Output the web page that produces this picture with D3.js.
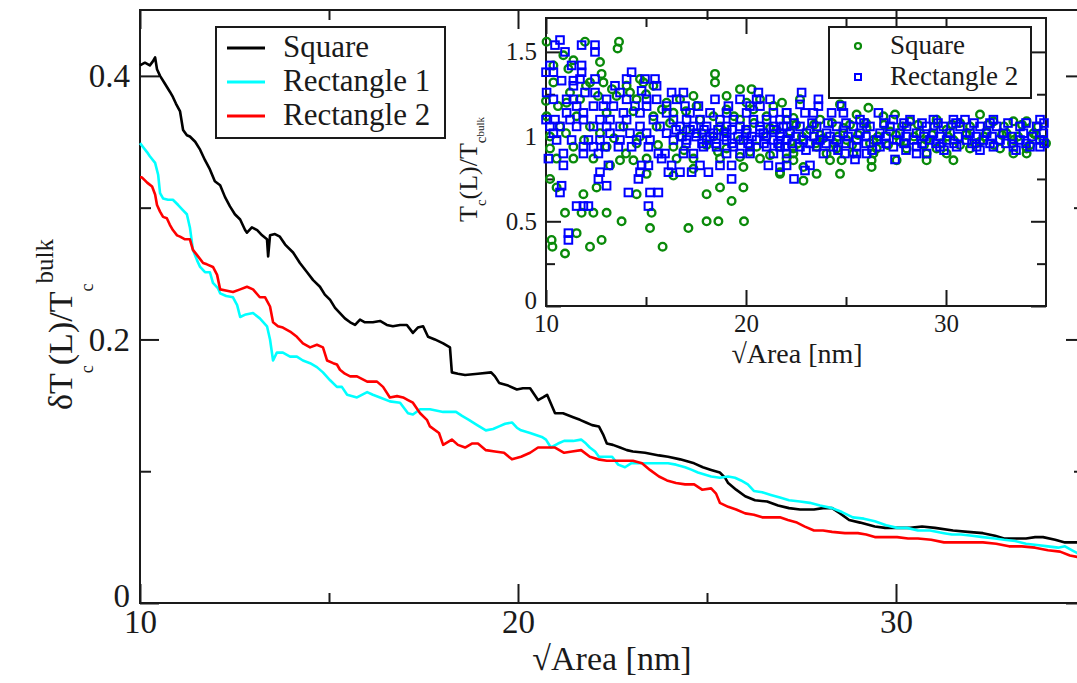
<!DOCTYPE html>
<html><head><meta charset="utf-8">
<script src="https://cdn.jsdelivr.net/npm/d3@7"></script>
<style>
body{margin:0;background:#fff}
svg{display:block}
svg text{font-family:"Liberation Serif","Times New Roman",serif !important}
</style>
</head><body><svg id="c" width="1077" height="683"></svg>
<script>
// ---------------- data ----------------
const seriesNames = ["Square", "Rectangle 1", "Rectangle 2"];
const insetNames = ["Square", "Rectangle 2"];

const squareCurve = [[10.00,0.408],[10.13,0.410],[10.26,0.408],[10.34,0.411],[10.40,0.414],[10.45,0.405],[10.53,0.400],[10.66,0.394],[10.79,0.388],[10.87,0.384],[10.95,0.379],[11.06,0.373],[11.14,0.359],[11.24,0.355],[11.32,0.354],[11.46,0.350],[11.59,0.344],[11.72,0.336],[11.85,0.329],[11.98,0.320],[12.12,0.317],[12.25,0.308],[12.38,0.301],[12.51,0.295],[12.65,0.291],[12.78,0.283],[12.83,0.281],[12.96,0.285],[13.10,0.283],[13.23,0.279],[13.36,0.276],[13.39,0.263],[13.44,0.279],[13.57,0.280],[13.70,0.278],[13.84,0.272],[14.05,0.266],[14.23,0.258],[14.42,0.251],[14.58,0.245],[14.76,0.240],[14.89,0.234],[15.03,0.230],[15.16,0.224],[15.29,0.220],[15.42,0.216],[15.56,0.213],[15.69,0.211],[15.82,0.215],[15.95,0.213],[16.16,0.213],[16.35,0.214],[16.53,0.211],[16.69,0.210],[16.88,0.211],[17.06,0.211],[17.22,0.205],[17.35,0.209],[17.49,0.210],[17.62,0.202],[17.80,0.200],[18.02,0.197],[18.20,0.194],[18.25,0.175],[18.41,0.174],[18.60,0.173],[18.94,0.174],[19.29,0.175],[19.39,0.172],[19.50,0.167],[19.74,0.165],[19.97,0.162],[20.13,0.163],[20.32,0.163],[20.53,0.154],[20.66,0.156],[20.77,0.158],[20.98,0.144],[21.19,0.144],[21.46,0.141],[21.64,0.139],[21.80,0.137],[21.96,0.135],[22.14,0.134],[22.25,0.128],[22.35,0.121],[22.51,0.120],[22.70,0.118],[22.88,0.116],[23.04,0.115],[23.36,0.114],[23.73,0.112],[23.97,0.111],[24.29,0.109],[24.66,0.106],[24.89,0.103],[25.11,0.101],[25.34,0.099],[25.48,0.095],[25.56,0.091],[25.77,0.086],[26.01,0.081],[26.27,0.078],[26.59,0.077],[26.88,0.074],[27.17,0.072],[27.46,0.071],[27.83,0.071],[28.07,0.072],[28.31,0.072],[28.52,0.068],[28.76,0.063],[29.05,0.061],[29.44,0.058],[29.71,0.057],[30.03,0.057],[30.37,0.057],[30.69,0.058],[31.03,0.057],[31.51,0.055],[31.90,0.054],[32.30,0.053],[32.62,0.051],[32.86,0.049],[33.15,0.049],[33.44,0.049],[33.68,0.050],[33.89,0.050],[34.21,0.048],[34.47,0.046],[34.79,0.046],[35.00,0.044]];

const rect1Curve = [[10.00,0.349],[10.08,0.346],[10.19,0.342],[10.26,0.339],[10.40,0.334],[10.48,0.325],[10.53,0.311],[10.61,0.307],[10.74,0.306],[10.87,0.306],[11.01,0.302],[11.14,0.298],[11.24,0.295],[11.32,0.285],[11.40,0.268],[11.51,0.260],[11.59,0.255],[11.72,0.251],[11.85,0.251],[11.93,0.243],[12.06,0.239],[12.12,0.235],[12.28,0.233],[12.46,0.232],[12.57,0.226],[12.65,0.217],[12.80,0.219],[12.99,0.220],[13.17,0.216],[13.36,0.210],[13.44,0.200],[13.52,0.184],[13.62,0.190],[13.78,0.190],[13.97,0.187],[14.15,0.187],[14.31,0.184],[14.50,0.182],[14.68,0.179],[14.84,0.175],[15.03,0.169],[15.21,0.164],[15.34,0.164],[15.48,0.158],[15.74,0.156],[16.01,0.160],[16.16,0.158],[16.35,0.156],[16.61,0.153],[16.88,0.152],[17.09,0.144],[17.22,0.143],[17.41,0.147],[17.67,0.147],[18.02,0.145],[18.36,0.145],[18.52,0.142],[18.70,0.139],[18.92,0.135],[19.15,0.131],[19.34,0.132],[19.50,0.134],[19.66,0.136],[19.84,0.137],[19.97,0.133],[20.08,0.131],[20.32,0.129],[20.63,0.126],[20.74,0.124],[20.87,0.118],[21.06,0.121],[21.22,0.123],[21.46,0.123],[21.67,0.124],[21.80,0.121],[21.90,0.118],[22.04,0.115],[22.14,0.111],[22.49,0.111],[22.65,0.105],[22.83,0.103],[22.99,0.106],[23.15,0.106],[23.49,0.106],[23.76,0.106],[23.97,0.106],[24.18,0.105],[24.42,0.103],[24.60,0.101],[24.76,0.099],[25.11,0.096],[25.34,0.095],[25.56,0.096],[25.74,0.095],[25.90,0.093],[26.08,0.090],[26.24,0.085],[26.46,0.084],[26.69,0.082],[26.93,0.080],[27.17,0.078],[27.46,0.077],[27.72,0.076],[27.99,0.074],[28.31,0.072],[28.57,0.069],[28.86,0.065],[29.15,0.064],[29.44,0.062],[29.74,0.059],[30.03,0.057],[30.29,0.057],[30.58,0.055],[30.90,0.055],[31.27,0.053],[31.48,0.052],[31.72,0.052],[32.01,0.051],[32.30,0.050],[32.62,0.049],[32.86,0.048],[33.15,0.047],[33.44,0.045],[33.73,0.044],[34.02,0.043],[34.29,0.042],[34.47,0.043],[34.66,0.040],[34.79,0.038],[35.00,0.036]];

const rect2Curve = [[10.00,0.323],[10.05,0.323],[10.19,0.319],[10.32,0.316],[10.40,0.310],[10.45,0.302],[10.53,0.297],[10.61,0.293],[10.71,0.292],[10.79,0.287],[10.87,0.283],[10.98,0.279],[11.06,0.278],[11.19,0.276],[11.32,0.276],[11.40,0.268],[11.51,0.264],[11.67,0.258],[11.77,0.257],[11.93,0.255],[12.04,0.249],[12.12,0.238],[12.30,0.237],[12.46,0.236],[12.65,0.238],[12.83,0.240],[12.99,0.238],[13.17,0.232],[13.31,0.232],[13.44,0.225],[13.52,0.213],[13.65,0.210],[13.78,0.209],[13.97,0.206],[14.15,0.202],[14.31,0.197],[14.50,0.194],[14.68,0.196],[14.84,0.194],[14.95,0.184],[15.11,0.182],[15.21,0.181],[15.29,0.177],[15.42,0.174],[15.56,0.172],[15.74,0.172],[16.01,0.168],[16.27,0.168],[16.43,0.164],[16.61,0.156],[16.80,0.157],[16.96,0.156],[17.09,0.154],[17.22,0.152],[17.41,0.144],[17.59,0.139],[17.67,0.134],[17.91,0.129],[18.02,0.120],[18.25,0.124],[18.41,0.120],[18.60,0.118],[18.78,0.121],[18.94,0.121],[19.15,0.116],[19.39,0.115],[19.63,0.114],[19.84,0.109],[20.08,0.111],[20.32,0.114],[20.53,0.118],[20.77,0.118],[20.98,0.118],[21.22,0.114],[21.43,0.115],[21.67,0.116],[21.90,0.111],[22.12,0.109],[22.35,0.108],[22.59,0.108],[22.83,0.108],[23.04,0.108],[23.28,0.106],[23.49,0.101],[23.73,0.096],[23.94,0.093],[24.18,0.091],[24.42,0.090],[24.66,0.090],[24.87,0.086],[25.11,0.087],[25.24,0.083],[25.34,0.076],[25.56,0.073],[25.77,0.071],[26.01,0.068],[26.24,0.067],[26.46,0.065],[26.69,0.065],[26.93,0.065],[27.14,0.063],[27.38,0.061],[27.59,0.058],[27.83,0.055],[28.07,0.055],[28.31,0.054],[28.65,0.053],[28.99,0.053],[29.21,0.052],[29.44,0.050],[29.74,0.050],[30.03,0.050],[30.32,0.049],[30.58,0.049],[30.93,0.048],[31.27,0.046],[31.61,0.046],[31.96,0.046],[32.30,0.046],[32.65,0.045],[32.99,0.043],[33.33,0.043],[33.68,0.042],[34.02,0.040],[34.34,0.039],[34.60,0.036],[34.79,0.035],[35.00,0.033]];

const insetSquare = [[10.03,1.56],[11.95,1.56],[13.65,1.56],[13.58,1.52],[12.7,1.44],[11.37,1.45],[10.87,1.48],[11.12,1.40],[10.37,1.42],[12.78,1.37],[14.7,1.34],[18.45,1.37],[18.45,1.32],[19.7,1.28],[20.28,1.28],[17.37,1.24],[19.03,1.24],[20.03,1.20],[20.7,1.22],[10.37,1.32],[12.2,1.32],[12.87,1.32],[14.03,1.30],[14.87,1.32],[15.37,1.30],[10.0,1.21],[11.03,1.20],[11.7,1.22],[13.53,1.24],[14.53,1.22],[16.03,1.20],[16.7,1.22],[17.53,1.18],[19.03,1.16],[20.37,1.16],[21.37,1.18],[10.03,1.12],[11.53,1.12],[13.03,1.14],[14.37,1.15],[15.37,1.12],[16.37,1.14],[17.7,1.10],[18.37,1.12],[19.7,1.10],[21.03,1.12],[22.03,1.10],[10.7,1.06],[12.2,1.06],[13.87,1.06],[15.53,1.06],[17.03,1.04],[18.7,1.06],[20.03,1.04],[21.53,1.04],[10.2,1.00],[12.7,1.02],[14.7,1.00],[16.7,1.00],[18.37,1.00],[19.7,0.98],[21.03,1.00],[10.2,0.93],[11.37,0.94],[13.03,0.94],[14.53,0.96],[16.37,0.94],[18.03,0.95],[19.03,0.93],[20.53,0.94],[21.7,0.94],[10.53,0.87],[11.37,0.87],[12.37,0.87],[13.7,0.86],[14.37,0.86],[15.03,0.87],[16.53,0.87],[17.37,0.87],[18.7,0.87],[19.7,0.88],[20.7,0.87],[22.03,0.87],[13.2,0.83],[15.03,0.78],[16.37,0.77],[17.37,0.81],[19.87,0.82],[21.7,0.78],[10.2,0.75],[10.53,0.70],[11.87,0.66],[12.53,0.70],[14.53,0.66],[18.03,0.66],[18.7,0.70],[19.87,0.70],[19.28,0.62],[10.95,0.55],[11.78,0.55],[12.37,0.55],[13.03,0.55],[13.78,0.50],[15.28,0.55],[15.2,0.46],[17.12,0.46],[18.03,0.50],[18.62,0.50],[19.9,0.50],[11.53,0.43],[10.28,0.39],[12.78,0.39],[10.32,0.35],[12.2,0.35],[15.83,0.35],[10.95,0.31],
[10.6,1.18],[11.2,1.26],[12.0,1.30],[12.6,1.24],[13.3,1.28],[14.2,1.26],[15.0,1.25],[15.8,1.16],[16.2,1.08],[17.0,1.15],[17.8,1.02],[18.9,1.03],[19.4,1.12],[20.4,1.08],[21.2,1.05],[21.8,1.20],[11.0,1.02],[11.9,0.98],[13.4,0.99],[14.0,0.90],[15.6,0.95],[16.9,0.92],[18.6,0.91],[20.2,0.91],[21.2,0.89],
[22.7,1.22],[24.7,1.19],[26.12,1.17],[27.45,1.13],[31.7,1.13],[22.37,1.11],[23.7,1.10],[25.53,1.13],[26.87,1.12],[28.2,1.09],[29.53,1.10],[30.7,1.08],[32.37,1.09],[33.37,1.09],[34.03,1.09],[22.2,1.03],[23.2,1.04],[24.87,1.05],[26.03,1.05],[27.2,1.03],[28.7,1.02],[30.03,1.04],[31.03,1.02],[32.03,1.02],[33.03,1.02],[34.37,1.02],[22.03,0.98],[23.87,0.99],[25.03,0.98],[26.37,0.98],[27.7,0.97],[29.03,0.98],[30.37,0.98],[31.7,0.97],[33.37,0.98],[34.87,0.98],[22.37,0.93],[23.53,0.94],[24.53,0.93],[26.53,0.93],[28.03,0.93],[29.53,0.93],[31.2,0.93],[32.7,0.93],[34.03,0.93],[22.37,0.90],[24.03,0.90],[25.37,0.90],[26.37,0.90],[29.03,0.90],[30.03,0.90],[33.37,0.90],[34.03,0.90],[22.37,0.86],[24.2,0.86],[24.78,0.86],[26.28,0.86],[27.53,0.86],[29.03,0.86],[30.37,0.86],[21.7,0.79],[22.87,0.82],[23.53,0.78],[24.7,0.78],[26.28,0.82],[22.87,0.74],
[22.5,1.07],[23.4,1.07],[24.3,1.08],[25.2,1.07],[26.0,1.08],[26.9,1.07],[27.8,1.06],[28.6,1.07],[29.4,1.06],[30.3,1.07],[31.2,1.06],[32.1,1.07],[32.9,1.06],[33.8,1.07],[34.6,1.06],
[22.8,1.00],[23.7,1.01],[24.6,1.00],[25.6,1.01],[26.6,1.00],[27.5,1.01],[28.4,1.00],[29.3,1.01],[30.1,1.00],[31.0,1.01],[31.9,1.00],[32.8,1.01],[33.6,1.00],[34.5,1.01],
[22.6,0.96],[23.5,0.96],[24.4,0.96],[25.3,0.95],[26.2,0.96],[27.1,0.95],[28.0,0.96],[28.9,0.95],[29.8,0.96],[30.7,0.95],[31.5,0.96],[32.4,0.95],[33.3,0.96],[34.2,0.95],[35.0,0.96]];

const insetRect2 = [[10.7,1.57],[10.45,1.54],[10.95,1.50],[11.78,1.54],[12.45,1.54],[12.45,1.50],[10.2,1.42],[10.0,1.38],[10.37,1.38],[11.28,1.42],[11.78,1.42],[11.78,1.38],[10.78,1.33],[11.37,1.33],[11.7,1.34],[11.37,1.30],[12.45,1.34],[14.28,1.38],[14.03,1.34],[14.95,1.34],[15.45,1.34],[13.45,1.30],[10.03,1.26],[11.95,1.26],[12.45,1.26],[13.7,1.26],[14.78,1.27],[15.53,1.30],[16.28,1.26],[16.87,1.26],[10.37,1.22],[11.03,1.22],[11.37,1.22],[13.03,1.22],[14.03,1.22],[15.03,1.22],[15.53,1.22],[16.53,1.22],[18.45,1.22],[19.7,1.22],[20.53,1.22],[21.2,1.22],[20.62,1.26],[11.53,1.18],[12.37,1.18],[12.87,1.18],[13.37,1.18],[14.45,1.18],[15.03,1.18],[16.03,1.18],[16.95,1.18],[17.62,1.18],[19.12,1.18],[20.2,1.18],[20.7,1.18],[11.03,1.14],[11.87,1.14],[13.87,1.14],[14.7,1.14],[16.03,1.14],[17.2,1.14],[18.2,1.14],[19.03,1.14],[20.03,1.14],[21.37,1.14],[22.03,1.14],[10.0,1.10],[10.45,1.10],[11.2,1.10],[11.87,1.10],[12.7,1.10],[13.2,1.10],[14.03,1.10],[15.37,1.10],[16.37,1.10],[17.03,1.10],[17.7,1.10],[18.7,1.10],[19.37,1.10],[20.37,1.10],[21.03,1.10],[21.7,1.10],[10.2,1.06],[10.7,1.06],[11.53,1.06],[12.37,1.06],[13.03,1.06],[13.7,1.06],[14.7,1.06],[15.7,1.06],[16.7,1.06],[17.37,1.06],[18.03,1.06],[19.03,1.06],[19.7,1.06],[20.7,1.06],[21.37,1.06],[22.03,1.06],[10.37,1.02],[13.2,1.02],[14.2,1.02],[15.03,1.02],[16.03,1.02],[17.53,1.02],[18.37,1.02],[19.03,1.02],[20.03,1.02],[20.87,1.02],[21.7,1.02],[10.53,0.98],[11.28,0.98],[12.12,0.98],[12.7,0.98],[13.7,0.98],[14.53,0.98],[15.2,0.98],[16.37,0.98],[17.03,0.98],[18.03,0.98],[19.03,0.98],[19.87,0.98],[20.53,0.98],[21.37,0.98],[11.87,0.94],[12.37,0.94],[12.95,0.94],[13.62,0.94],[14.28,0.94],[15.12,0.94],[17.87,0.94],[18.53,0.94],[19.37,0.94],[20.2,0.94],[21.03,0.94],[21.7,0.94],[10.12,0.87],[10.87,0.90],[11.87,0.90],[12.62,0.90],[15.62,0.90],[15.95,0.90],[16.87,0.90],[17.37,0.90],[19.03,0.90],[19.7,0.90],[20.2,0.90],[21.37,0.90],[22.03,0.90],[10.87,0.83],[13.12,0.83],[14.78,0.83],[15.12,0.83],[15.78,0.87],[16.28,0.83],[17.7,0.83],[18.7,0.83],[19.28,0.83],[21.12,0.83],[22.03,0.83],[12.7,0.79],[14.7,0.79],[16.12,0.79],[16.7,0.79],[17.28,0.79],[18.12,0.79],[12.62,0.75],[14.62,0.75],[19.28,0.75],[13.03,0.71],[10.78,0.71],[10.7,0.67],[14.12,0.67],[15.2,0.67],[15.62,0.67],[11.53,0.59],[11.87,0.59],[12.12,0.59],[15.12,0.59],[11.12,0.43],[11.12,0.39],
[16.5,1.04],[17.2,1.04],[17.9,1.04],[18.6,1.04],[19.3,1.04],[20.0,1.04],[20.7,1.04],[21.4,1.04],[16.8,1.00],[17.5,1.00],[18.2,1.00],[18.9,1.00],[19.6,1.00],[20.3,1.00],[21.0,1.00],[21.7,1.00],[17.0,0.96],[17.8,0.96],[18.5,0.96],[19.3,0.96],[20.1,0.96],[20.9,0.96],[21.6,0.96],
[22.78,1.26],[22.7,1.19],[23.62,1.22],[23.62,1.18],[24.78,1.18],[22.03,1.14],[22.95,1.14],[23.37,1.14],[24.28,1.14],[24.87,1.14],[25.7,1.10],[26.62,1.14],[27.37,1.10],[28.2,1.10],[29.37,1.10],[30.37,1.10],[30.95,1.10],[32.37,1.10],[34.7,1.10],
[21.87,1.06],[22.7,1.06],[23.53,1.06],[24.53,1.06],[25.37,1.06],[26.2,1.06],[27.2,1.06],[28.03,1.06],[29.03,1.06],[29.87,1.06],[30.7,1.06],[31.7,1.06],[32.53,1.06],[33.7,1.06],[34.53,1.06],
[22.2,1.02],[23.03,1.02],[24.03,1.02],[24.87,1.02],[25.7,1.02],[26.7,1.02],[27.7,1.02],[28.53,1.02],[29.37,1.02],[30.2,1.02],[31.2,1.02],[32.03,1.02],[32.87,1.02],[33.87,1.02],[34.87,1.02],
[22.03,0.98],[22.87,0.98],[23.7,0.98],[24.53,0.98],[25.53,0.98],[26.53,0.98],[27.53,0.98],[28.37,0.98],[29.2,0.98],[30.03,0.98],[31.03,0.98],[31.87,0.98],[32.7,0.98],[33.7,0.98],[34.7,0.98],
[21.95,0.94],[22.7,0.94],[23.53,0.94],[24.37,0.94],[25.53,0.94],[26.7,0.94],[27.37,0.94],[28.53,0.94],[29.7,0.94],[30.53,0.94],[31.53,0.94],[32.37,0.94],[33.37,0.94],[34.2,0.94],[34.7,0.94],
[23.87,0.90],[24.95,0.90],[25.53,0.90],[26.03,0.90],[28.53,0.90],[29.03,0.90],[25.45,0.865],[27.45,0.865],[21.7,0.82],[23.2,0.83],[22.95,0.80],[22.4,0.75],
[22.4,1.08],[23.3,1.08],[24.1,1.08],[25.0,1.08],[25.9,1.08],[26.9,1.08],[27.9,1.08],[28.8,1.08],[29.6,1.08],[30.5,1.08],[31.4,1.08],[32.2,1.08],[33.1,1.08],[34.0,1.08],[34.9,1.08],
[22.5,1.00],[23.4,1.00],[24.2,1.00],[25.1,1.00],[26.0,1.00],[27.0,1.00],[28.0,1.00],[28.9,1.00],[29.7,1.00],[30.6,1.00],[31.5,1.00],[32.3,1.00],[33.3,1.00],[34.3,1.00],
[22.3,0.96],[23.2,0.96],[24.0,0.96],[25.0,0.96],[26.0,0.96],[27.0,0.96],[27.9,0.96],[28.8,0.96],[29.5,0.96],[30.4,0.96],[31.3,0.96],[32.2,0.96],[33.0,0.96],[34.0,0.96],[34.9,0.96],
[23.0,0.92],[24.6,0.92],[26.3,0.92],[28.0,0.92],[29.9,0.92],[31.7,0.92],[33.5,0.92]];

const mainXMajor = [10, 20, 30], mainXMinor = [15, 25];
const mainYMajor = [0, 0.2, 0.4], mainYMinor = [0.1, 0.3];
const insetXMajor = [10, 20, 30], insetXMinor = [15, 25];
const insetYMajor = [0, 0.5, 1, 1.5], insetYMinor = [0.25, 0.75, 1.25];

// ---------------- drawing ----------------
const FONT = "Liberation Serif";
const INK = "#1a1a1a";
const lineColors = ["#000000", "#00ffff", "#ff0000"];
const markColors = ["#0a8a0a", "#0000ff"];
const svg = d3.select("#c");

const x = d3.scaleLinear().domain([10, 35]).range([140, 1085]);
const y = d3.scaleLinear().domain([0, 0.45]).range([603, 10]);
const xi = d3.scaleLinear().domain([10, 35]).range([546, 1046]);
const yi = d3.scaleLinear().domain([0, 1.7]).range([306, 18]);

function axis(gen, transform, ticks, len, labels, pad, fs) {
  gen.tickValues(ticks).tickSizeInner(-len).tickSizeOuter(0).tickPadding(pad)
     .tickFormat(labels ? (d => String(d)) : (() => ""));
  const g = svg.append("g").attr("transform", transform).call(gen);
  g.select(".domain").remove();
  g.attr("font-family", FONT).attr("font-size", fs);
  g.selectAll("line").attr("stroke", INK).attr("stroke-width", 2);
  g.selectAll("text").attr("fill", INK);
  return g;
}

// main frame + axes
svg.append("rect").attr("x", x(10)).attr("y", y(0.45)).attr("width", x(35) - x(10)).attr("height", y(0) - y(0.45))
  .attr("fill", "none").attr("stroke", INK).attr("stroke-width", 2);
axis(d3.axisBottom(x), `translate(0,${y(0)})`, mainXMajor, 19, true, 7, 33);
axis(d3.axisBottom(x), `translate(0,${y(0)})`, mainXMinor, 10, false, 7, 33);
axis(d3.axisTop(x), `translate(0,${y(0.45)})`, mainXMajor, 19, false, 7, 33);
axis(d3.axisTop(x), `translate(0,${y(0.45)})`, mainXMinor, 10, false, 7, 33);
const yAx = axis(d3.axisLeft(y), `translate(${x(10)},0)`, mainYMajor, 19, true, 10, 33);
yAx.selectAll("text").filter(d => d === 0).attr("dy", "0.1em");
axis(d3.axisLeft(y), `translate(${x(10)},0)`, mainYMinor, 11, false, 10, 33);
axis(d3.axisRight(y), `translate(${x(35)},0)`, mainYMajor, 19, false, 10, 33);
axis(d3.axisRight(y), `translate(${x(35)},0)`, mainYMinor, 11, false, 10, 33);

// main curves
const line = d3.line().x(d => x(d[0])).y(d => y(d[1]));
[squareCurve, rect1Curve, rect2Curve].forEach((s, i) => {
  svg.append("path").datum(s).attr("d", line).attr("fill", "none")
    .attr("stroke", lineColors[i]).attr("stroke-width", 2.6).attr("stroke-linejoin", "round");
});

// main legend
const lg = svg.append("g");
lg.append("rect").attr("x", 216).attr("y", 27).attr("width", 229).attr("height", 111)
  .attr("fill", "#fff").attr("stroke", INK).attr("stroke-width", 2);
seriesNames.forEach((n, i) => {
  const yy = 48 + i * 34;
  lg.append("line").attr("x1", 227).attr("x2", 265).attr("y1", yy).attr("y2", yy)
    .attr("stroke", lineColors[i]).attr("stroke-width", 3);
  lg.append("text").attr("x", 283).attr("y", yy + 9).attr("font-size", 31)
    .attr("fill", INK).text(n);
});

// main axis titles
svg.append("text").attr("x", 612).attr("y", 670).attr("text-anchor", "middle")
  .attr("font-size", 34).attr("fill", INK).text("√Area [nm]");
const yt = svg.append("text").attr("transform", "translate(72,410) rotate(-90)").attr("fill", INK);
yt.append("tspan").attr("font-size", 34).text("δT");
yt.append("tspan").attr("font-size", 18).attr("dy", 21).text("c");
yt.append("tspan").attr("font-size", 34).attr("dy", -21).text("(L)/T");
yt.append("tspan").attr("font-size", 18).attr("dy", 21).text("c");
yt.append("tspan").attr("font-size", 25).attr("dy", -40).text("bulk");

// ---------------- inset ----------------
svg.append("rect").attr("x", xi(10)).attr("y", yi(1.7)).attr("width", xi(35) - xi(10)).attr("height", yi(0) - yi(1.7))
  .attr("fill", "none").attr("stroke", INK).attr("stroke-width", 2);
axis(d3.axisBottom(xi), `translate(0,${yi(0)})`, insetXMajor, 16, true, 8, 25);
axis(d3.axisBottom(xi), `translate(0,${yi(0)})`, insetXMinor, 9, false, 8, 25);
axis(d3.axisTop(xi), `translate(0,${yi(1.7)})`, insetXMajor, 16, false, 8, 25);
axis(d3.axisTop(xi), `translate(0,${yi(1.7)})`, insetXMinor, 9, false, 8, 25);
const yiAx = axis(d3.axisLeft(yi), `translate(${xi(10)},0)`, insetYMajor, 15, true, 9, 25);
yiAx.selectAll("text").filter(d => d === 0).attr("dy", "0.1em");
axis(d3.axisLeft(yi), `translate(${xi(10)},0)`, insetYMinor, 9, false, 9, 25);
axis(d3.axisRight(yi), `translate(${xi(35)},0)`, insetYMajor, 15, false, 9, 25);
axis(d3.axisRight(yi), `translate(${xi(35)},0)`, insetYMinor, 9, false, 9, 25);

svg.append("g").selectAll("circle").data(insetSquare).join("circle")
  .attr("cx", d => xi(d[0])).attr("cy", d => yi(d[1])).attr("r", 3.8)
  .attr("fill", "none").attr("stroke", markColors[0]).attr("stroke-width", 2.4);
svg.append("g").selectAll("rect").data(insetRect2).join("rect")
  .attr("x", d => xi(d[0]) - 3.8).attr("y", d => yi(d[1]) - 3.8).attr("width", 7.6).attr("height", 7.6)
  .attr("fill", "none").attr("stroke", markColors[1]).attr("stroke-width", 2);

// inset legend
const il = svg.append("g");
il.append("rect").attr("x", 829).attr("y", 27).attr("width", 202).attr("height", 71)
  .attr("fill", "#fff").attr("stroke", INK).attr("stroke-width", 2);
insetNames.forEach((n, i) => {
  const yy = 46 + i * 31;
  if (i === 0) il.append("circle").attr("cx", 858).attr("cy", yy).attr("r", 3)
    .attr("fill", "none").attr("stroke", markColors[0]).attr("stroke-width", 2.2);
  else il.append("rect").attr("x", 855).attr("y", yy - 3).attr("width", 6).attr("height", 6)
    .attr("fill", "none").attr("stroke", markColors[1]).attr("stroke-width", 2);
  il.append("text").attr("x", 890).attr("y", yy + 8).attr("font-size", 27)
    .attr("fill", INK).text(n);
});

// inset axis titles
svg.append("text").attr("x", 797).attr("y", 363).attr("text-anchor", "middle")
  .attr("font-size", 28).attr("fill", INK).text("√Area [nm]");
const yti = svg.append("text").attr("transform", "translate(477,222) rotate(-90)").attr("fill", INK);
yti.append("tspan").attr("font-size", 26).text("T");
yti.append("tspan").attr("font-size", 15).attr("dy", 9).text("c");
yti.append("tspan").attr("font-size", 26).attr("dy", -9).text("(L)/T");
yti.append("tspan").attr("font-size", 15).attr("dy", 9).text("c");
yti.append("tspan").attr("font-size", 11).attr("dy", -2).text("bulk");
</script></body></html>
